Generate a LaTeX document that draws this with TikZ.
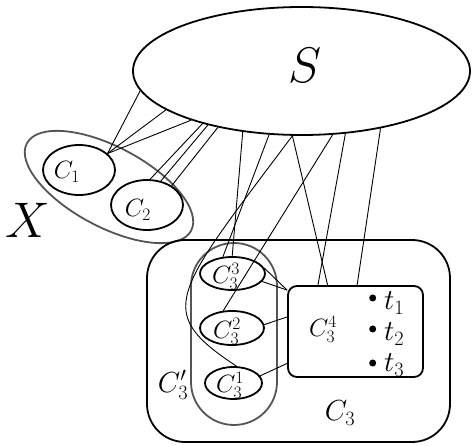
\RequirePackage{fix-cm}
\documentclass[tikz,border=0pt]{standalone}
\usetikzlibrary{shapes.geometric}
\definecolor{grayc}{RGB}{85,85,85}
\begin{document}
\begin{tikzpicture}[x=1pt,y=-1pt,
  thickline/.style={line width=1.8pt},
  link/.style={line width=0.9pt},
  oval/.style={ellipse, draw, thickline, inner sep=0pt},
  grayoval/.style={draw=grayc, line width=1.8pt, inner sep=0pt},
  lbl/.style={inner sep=0pt, font=\fontsize{25}{28}\selectfont},
  biglbl/.style={inner sep=0pt, font=\fontsize{29}{32}\selectfont},
  hugelbl/.style={inner sep=0pt, font=\fontsize{50}{54}\selectfont},
  dotmark/.style={circle, fill, inner sep=0pt, minimum size=7pt},
]
\useasboundingbox (0,0) rectangle (472,446);

% top set S
\node[oval, minimum width=337pt, minimum height=128pt] (S) at (301.5,71) {};
\node[hugelbl] (Slbl) at (305,65) {$S$};

% set X with its two components
\node[grayoval, ellipse, minimum width=186pt, minimum height=80pt, rotate=-28] (X) at (109,187) {};
\node[hugelbl] (Xlbl) at (28,220) {$X$};
\node[oval, minimum width=72pt, minimum height=50pt] (C1) at (79,170) {};
\node[oval, minimum width=72pt, minimum height=50pt] (C2) at (147,205) {};
\node[lbl] at (67,172) {$C_1$};
\node[lbl] at (138,210) {$C_2$};

% component C3
\node[draw, thickline, rounded corners=38pt, minimum width=303pt, minimum height=202pt] (C3) at (298.5,341) {};
\node[biglbl] (C3lbl) at (340,413) {$C_3$};
\node[grayoval, rounded corners=43pt, minimum width=86pt, minimum height=182pt] (C3p) at (234,334) {};
\node[biglbl] (C3plbl) at (173,385) {$C_3'$};

\node[oval, minimum width=65pt, minimum height=33pt] (C33) at (232.5,273.5) {};
\node[oval, minimum width=64pt, minimum height=34pt] (C32) at (232,328) {};
\node[oval, minimum width=57pt, minimum height=32pt] (C31) at (233.5,383) {};
\node[lbl] at (226,276) {$C_3^3$};
\node[lbl] at (227,331) {$C_3^2$};
\node[lbl] at (230,385) {$C_3^1$};

\node[draw, thickline, rounded corners=9pt, minimum width=135pt, minimum height=91pt] (C34) at (355.5,331.5) {};
\node[lbl] at (323,329) {$C_3^4$};

% terminals
\node[dotmark] (d1) at (372.7,298) {};
\node[dotmark] (d2) at (372.7,329) {};
\node[dotmark] (d3) at (372.7,363) {};
\node[biglbl, anchor=base west] (t1) at (384,310) {$t_1$};
\node[biglbl, anchor=base west] (t2) at (384,341) {$t_2$};
\node[biglbl, anchor=base west] (t3) at (384,372) {$t_3$};

% edges from S
\draw[link] (S.187.7) -- (C1.30);
\draw[link] (S.196.2) -- (C1.30);
\draw[link] (S.204) -- (C1.30);
\draw[link] (S.208) -- (C2.83);
\draw[link] (S.210.9) -- (C2.60);
\draw[link] (S.214.8) -- (C2.38);
\draw[link] (S.226.2) -- (C33.91);
\draw[link] (S.243.8) -- (C33.120);
\draw[link] (S.262.7) -- (C34.121);
\draw[link] (S.262.7) .. controls +(-120,160) and +(-83,-55) .. (C31.80);
\draw[link] (S.296.2) -- (C32.117);
\draw[link] (S.305) -- (C34.129.5);
\draw[link] (S.324.8) -- (C34.88);

% edges inside C3
\draw[link] (C33.10) -- ([yshift=-5pt]C34.north west);
\draw[link] (C33.-15) -- ([yshift=-5pt]C34.north west);
\draw[link] (C32.6) -- (C34.168);
\draw[link] (C31.15) -- (C34.205);
\end{tikzpicture}
\end{document}
